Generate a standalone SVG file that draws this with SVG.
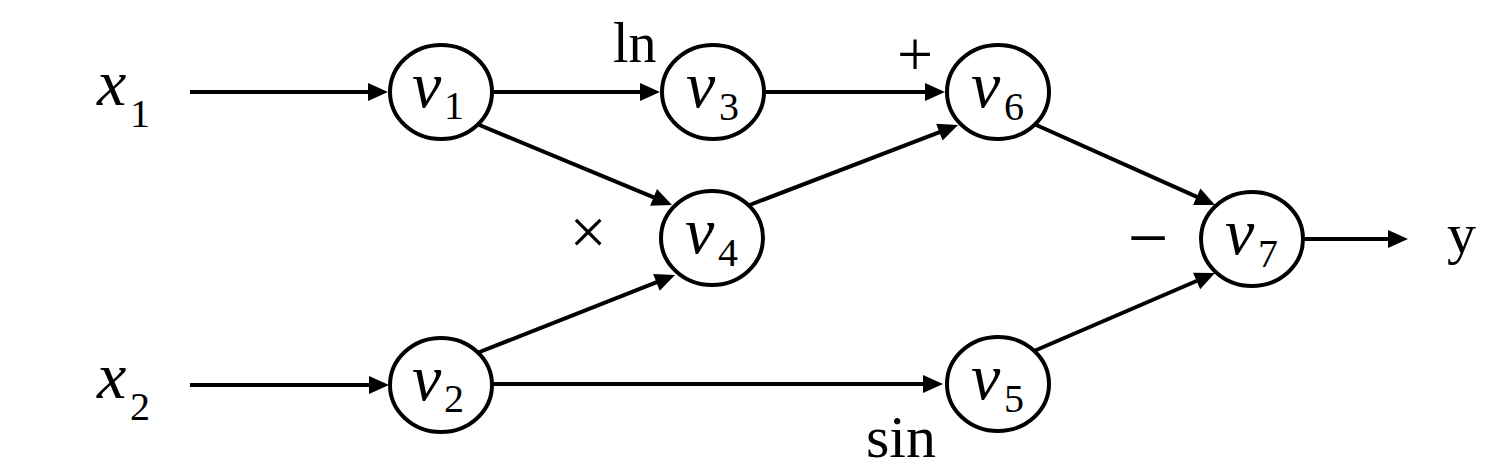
<svg xmlns="http://www.w3.org/2000/svg" width="1503" height="472" viewBox="0 0 1503 472">
<style>
.edge{stroke:#000;stroke-width:4;fill:none;marker-end:url(#ah)}
.node ellipse{fill:#fff;stroke:#000;stroke-width:4}
.var{font-family:"Liberation Serif",serif;font-style:italic;font-size:66px;fill:#000}
.sub{font-family:"Liberation Serif",serif;font-size:40px;fill:#000}
.lbl{font-family:"Liberation Serif",serif;fill:#000}
</style>
<defs>
<marker id="ah" markerUnits="userSpaceOnUse" markerWidth="20" markerHeight="18" refX="10" refY="9" orient="auto" overflow="visible">
<path d="M0,0 L20,9 L0,18 Z" fill="#000"/>
</marker>
</defs>
<rect width="1503" height="472" fill="#fff"/>
<g id="connectors">
<line class="edge" x1="190" y1="92" x2="378" y2="92"/>
<line class="edge" x1="190" y1="385" x2="379" y2="385"/>
<line class="edge" x1="490" y1="92" x2="650" y2="92"/>
<line class="edge" x1="760" y1="92" x2="935" y2="92"/>
<line class="edge" x1="477" y1="124" x2="662.8" y2="201.2"/>
<line class="edge" x1="477" y1="353" x2="665.7" y2="278.7"/>
<line class="edge" x1="747" y1="206" x2="948.7" y2="128.6"/>
<line class="edge" x1="1034" y1="124" x2="1205.9" y2="200.9"/>
<line class="edge" x1="1034" y1="351" x2="1205.8" y2="277"/>
<line class="edge" x1="490" y1="384" x2="933" y2="384"/>
<line class="edge" x1="1300" y1="239" x2="1398" y2="239"/>
</g>
<g id="x1"><text class="var" x="97" y="105">x</text><text class="sub" x="130" y="127">1</text></g>
<g id="x2"><text class="var" x="97" y="398">x</text><text class="sub" x="130" y="420">2</text></g>
<g id="v1" class="node"><ellipse cx="441" cy="92" rx="51" ry="47"/><text class="var" x="412" y="107">v</text><text class="sub" x="444" y="119">1</text></g>
<g id="v2" class="node"><ellipse cx="441" cy="385" rx="51" ry="47"/><text class="var" x="412" y="400">v</text><text class="sub" x="444" y="412">2</text></g>
<g id="v3" class="node"><ellipse cx="713" cy="92" rx="51" ry="47"/><text class="var" x="686" y="107">v</text><text class="sub" x="719" y="120">3</text></g>
<g id="v4" class="node"><ellipse cx="712" cy="238" rx="51" ry="47"/><text class="var" x="685" y="253">v</text><text class="sub" x="718" y="266">4</text></g>
<g id="v5" class="node"><ellipse cx="998" cy="384" rx="51" ry="47"/><text class="var" x="971" y="399">v</text><text class="sub" x="1004" y="412">5</text></g>
<g id="v6" class="node"><ellipse cx="998" cy="92" rx="51" ry="47"/><text class="var" x="971" y="107">v</text><text class="sub" x="1004" y="120">6</text></g>
<g id="v7" class="node"><ellipse cx="1252" cy="239" rx="51" ry="47"/><text class="var" x="1225" y="254">v</text><text class="sub" x="1258" y="267">7</text></g>
<g id="labels">
<text class="lbl" x="613" y="62" font-size="56">ln</text>
<text class="lbl" x="866" y="457" font-size="60">sin</text>
<text class="lbl" x="915" y="76" font-size="64" text-anchor="middle">+</text>
<text class="lbl" x="588" y="254" font-size="66" text-anchor="middle">×</text>
<text class="lbl" x="1148" y="262" font-size="72" text-anchor="middle">−</text>
<text class="lbl" x="1447" y="253" font-size="58">y</text>
</g>
</svg>
